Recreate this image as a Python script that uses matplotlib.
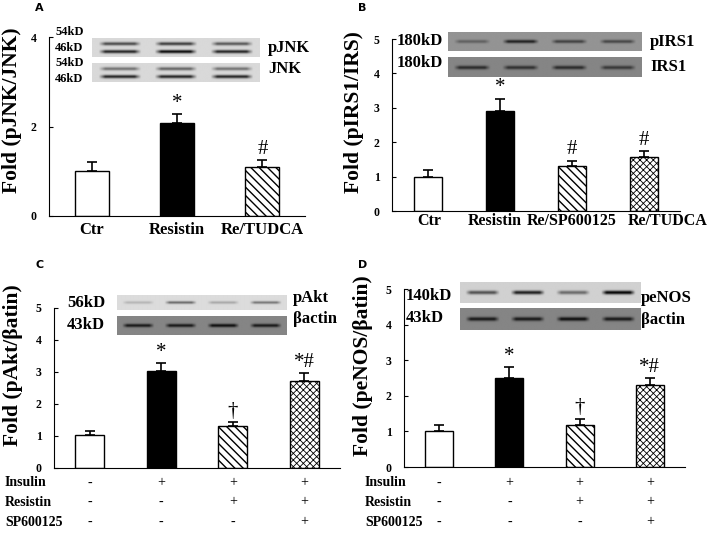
import numpy as np
import matplotlib
matplotlib.use('Agg')
import matplotlib.pyplot as plt
import matplotlib.transforms as mtransforms

W, H = 720, 533

# ---- data ----
a_labels = ['Ctr', 'Resistin', 'Re/TUDCA']
a_values = [1.0, 2.08, 1.09]
a_errors = [0.2, 0.2, 0.16]
a_marks = ['', '*', '#']

b_labels = ['Ctr', 'Resistin', 'Re/SP600125', 'Re/TUDCA']
b_values = [1.0, 2.9, 1.31, 1.56]
b_errors = [0.19, 0.36, 0.15, 0.18]
b_marks = ['', '*', '#', '#']

c_values = [1.02, 3.02, 1.3, 2.71]
c_errors = [0.14, 0.26, 0.14, 0.26]
c_marks = ['', '*', '\u2020', '*#']

d_values = [1.0, 2.51, 1.19, 2.3]
d_errors = [0.17, 0.29, 0.17, 0.19]
d_marks = ['', '*', '\u2020', '*#']

cond_names = ['Insulin', 'Resistin', 'SP600125']
cond_insulin = ['-', '+', '+', '+']
cond_resistin = ['-', '-', '+', '+']
cond_sp = ['-', '-', '-', '+']

# blot band strengths (darkness) per lane
pjnk_54 = [0.55, 0.6, 0.5]
pjnk_46 = [0.7, 0.8, 0.7]
jnk_54 = [0.4, 0.45, 0.4]
jnk_46 = [0.7, 0.7, 0.7]
pirs1 = [0.2, 0.45, 0.32, 0.3]
irs1 = [0.35, 0.33, 0.35, 0.3]
pakt = [0.15, 0.45, 0.2, 0.4]
actin_c = [0.42, 0.42, 0.46, 0.42]
penos = [0.5, 0.7, 0.4, 0.8]
actin_d = [0.42, 0.42, 0.46, 0.42]

# bar styles: (face, hatch, hatch linewidth)
styles3 = [('white', None, 1.0), ('black', None, 1.0), ('white', '\\\\\\\\', 1.0)]
styles4 = styles3 + [('white', 'xxxxx', 0.6)]

plt.rcParams['font.family'] = ['Liberation Serif', 'DejaVu Serif']

fig = plt.figure(figsize=(W / 100, H / 100), dpi=100)


def px_axes(x0, y0, x1, y1):
    return fig.add_axes([x0 / W, 1 - y1 / H, (x1 - x0) / W, (y1 - y0) / H])


def ftext(x, y, s, **kw):
    fig.text(x / W, 1 - y / H, s, **kw)


def bar_panel(rect, values, errors, marks, ymax, yticks, ylabel, lab_xy):
    ax = px_axes(*rect)
    n = len(values)
    x = np.arange(n)
    styles = styles3 if n == 3 else styles4
    for i in range(n):
        face, hatch, hlw = styles[i]
        with plt.rc_context({'hatch.linewidth': hlw}):
            ax.bar(x[i], values[i], width=0.4, color=face, edgecolor='black',
                   linewidth=1.0, hatch=hatch, zorder=2)
    ax.errorbar(x, values, yerr=[np.zeros(n), errors], fmt='none',
                ecolor='black', elinewidth=1.2, capsize=3.5, capthick=1.2, zorder=1)
    for i, m in enumerate(marks):
        if m:
            ax.annotate(m, xy=(x[i], values[i] + errors[i]), xytext=(0, 1),
                        textcoords='offset points', ha='center', va='bottom',
                        fontsize=15)
    ax.set_xlim(-0.5, n - 0.5)
    ax.set_ylim(0, ymax)
    ax.set_yticks(yticks)
    ax.set_yticklabels([str(t) for t in yticks], fontsize=8.5, fontweight='bold')
    ax.spines['top'].set_visible(False)
    ax.spines['right'].set_visible(False)
    ax.tick_params(axis='x', length=0)
    ax.tick_params(axis='y', length=3, direction='in', pad=9)
    ax.set_xticks([])
    ax.set_ylabel(ylabel, fontsize=15.5, fontweight='bold')
    x0, y0, x1, y1 = rect
    ax.yaxis.set_label_coords((lab_xy[0] - x0) / (x1 - x0),
                              (y1 - lab_xy[1]) / (y1 - y0))
    ax.patch.set_alpha(0)
    return ax


def blot(rect, rows, bg):
    ax = px_axes(*rect)
    cols, nrows = 300, 60
    n = len(rows[0][1])
    xs = np.linspace(0, n, cols, endpoint=False) + n / (2 * cols)
    d = np.abs(xs - (np.floor(xs) + 0.5))
    horiz = np.clip((0.38 - d) / 0.12, 0, 1)
    ys = np.linspace(0, 1, nrows)
    img = np.full((nrows, cols), bg)
    for yc, strengths in rows:
        vert = np.exp(-((ys - yc) / 0.09) ** 2)
        s = np.repeat(np.array(strengths), cols // n)
        img -= np.outer(vert, s * horiz)
    ax.imshow(np.clip(img, 0, 1), cmap='gray', vmin=0, vmax=1, aspect='auto',
              interpolation='bilinear')
    ax.set_axis_off()
    return ax


# ---- panel A ----
axA = bar_panel((49, 37, 305, 216), a_values, a_errors, a_marks, 4, [0, 2, 4],
                'Fold (pJNK/JNK)', (22, 110))
for i, lab in enumerate(a_labels):
    axA.text(i, -0.08, lab, transform=axA.get_xaxis_transform(), ha='center',
             va='center', fontsize=12, fontweight='bold')
blot((92, 38, 260, 57), [(0.3, pjnk_54), (0.72, pjnk_46)], 0.85)
blot((92, 63, 260, 82), [(0.3, jnk_54), (0.72, jnk_46)], 0.85)
for y, s in [(32, '54kD'), (48, '46kD'), (63, '54kD'), (79, '46kD')]:
    ftext(55, y, s, fontsize=9, fontweight='bold', va='center')
ftext(268, 48, 'pJNK', fontsize=12, fontweight='bold', va='center')
ftext(268, 69, 'JNK', fontsize=12, fontweight='bold', va='center')

# ---- panel B ----
axB = bar_panel((392, 39, 680, 211), b_values, b_errors, b_marks, 5, [0, 1, 2, 3, 4, 5],
                'Fold (pIRS1/IRS)', (364, 112))
b_label_x = [0.02, 0.92, 2.0, 3.33]
for xl, lab in zip(b_label_x, b_labels):
    axB.text(xl, -0.06, lab, transform=axB.get_xaxis_transform(), ha='center',
             va='center', fontsize=11.5, fontweight='bold')
blot((448, 32, 642, 51), [(0.5, pirs1)], 0.58)
blot((448, 57, 642, 77), [(0.55, irs1)], 0.52)
ftext(397, 41, '180kD', fontsize=12, fontweight='bold', va='center')
ftext(397, 63, '180kD', fontsize=12, fontweight='bold', va='center')
ftext(650, 42, 'pIRS1', fontsize=12, fontweight='bold', va='center')
ftext(650, 67, 'IRS1', fontsize=12, fontweight='bold', va='center')

# ---- panel C ----
axC = bar_panel((54, 308, 340, 468), c_values, c_errors, c_marks, 5, [0, 1, 2, 3, 4, 5],
                'Fold (pAkt/\u03b2atin)', (23, 365))
blot((117, 295, 287, 310), [(0.5, pakt)], 0.86)
blot((117, 316, 287, 335), [(0.5, actin_c)], 0.52)
ftext(67, 303, '56kD', fontsize=12, fontweight='bold', va='center')
ftext(67, 325, '43kD', fontsize=12, fontweight='bold', va='center')
ftext(293, 298, 'pAkt', fontsize=12, fontweight='bold', va='center')
ftext(293, 319, '\u03b2actin', fontsize=12, fontweight='bold', va='center')

# ---- panel D ----
axD = bar_panel((404, 289, 685, 467), d_values, d_errors, d_marks, 5, [0, 1, 2, 3, 4, 5],
                'Fold (peNOS/\u03b2atin)', (373, 366))
blot((460, 282, 640, 303), [(0.5, penos)], 0.82)
blot((460, 308, 640, 330), [(0.5, actin_d)], 0.52)
ftext(406, 296, '140kD', fontsize=12, fontweight='bold', va='center')
ftext(406, 318, '43kD', fontsize=12, fontweight='bold', va='center')
ftext(641, 298, 'peNOS', fontsize=12, fontweight='bold', va='center')
ftext(641, 320, '\u03b2actin', fontsize=12, fontweight='bold', va='center')

# ---- treatment tables ----
for ax, xlab in [(axC, 5), (axD, 365)]:
    tr = mtransforms.blended_transform_factory(ax.transData, fig.transFigure)
    for row, (name, signs) in enumerate(zip(cond_names,
                                            [cond_insulin, cond_resistin, cond_sp])):
        y = [483, 502, 522][row]
        ftext(xlab, y, name, fontsize=10, fontweight='bold', va='center')
        for i, s in enumerate(signs):
            ax.text(i, 1 - y / H, s, transform=tr, ha='center', va='center',
                    fontsize=10)

# ---- panel letters ----
for x, y, s in [(35, 8, 'A'), (358, 8, 'B'), (35, 265, 'C'), (358, 265, 'D')]:
    ftext(x, y, s, fontsize=8, fontweight='bold', va='center',
          family='DejaVu Sans')

fig.savefig('out.png', dpi=100)
